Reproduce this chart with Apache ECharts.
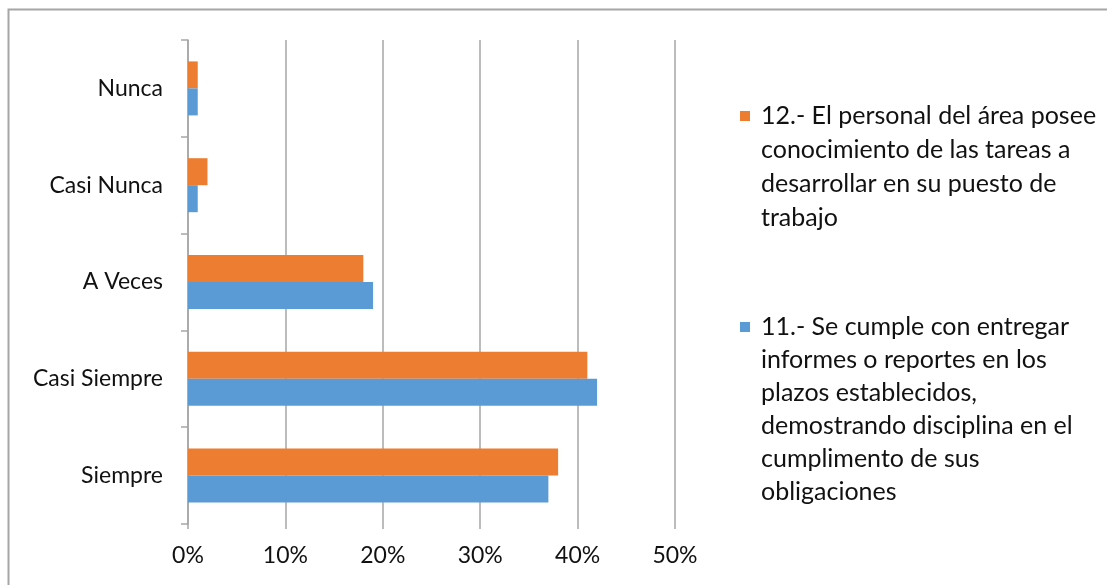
<!DOCTYPE html>
<html>
<head>
<meta charset="utf-8">
<script src="https://cdn.jsdelivr.net/npm/echarts@6/dist/echarts.min.js"></script>
<style>
html,body{margin:0;padding:0;background:#fff;}
#chart{width:1107px;height:585px;}
</style>
</head>
<body>
<div id="chart"></div>
<script>
var categories = ['Siempre', 'Casi Siempre', 'A Veces', 'Casi Nunca', 'Nunca'];
var seriesNames = [
  '12.- El personal del área posee\nconocimiento de las tareas a\ndesarrollar en su puesto de\ntrabajo',
  '11.- Se cumple con entregar\ninformes o reportes en los\nplazos establecidos,\ndemostrando disciplina en el\ncumplimento de sus\nobligaciones'
];
var values12 = [38, 41, 18, 2, 1];
var values11 = [37, 42, 19, 1, 1];
var xTicks = [0, 10, 20, 30, 40, 50];

var FONT = 'Lato';
function topAligned(name) {
  // prepend blank lines so the first text line sits beside the legend icon
  var n = name.split('\n').length;
  return new Array(n).join('\n') + name;
}
// 10x10 square plus an empty point at x=16 to leave a gap before the text
var ICON = 'path://M0,0L10,0L10,10L0,10Z M16,0L16,0';
var chart = echarts.init(document.getElementById('chart'));
chart.setOption({
  animation: false,
  backgroundColor: '#fff',
  graphic: [{
    type: 'polyline',
    shape: { points: [[8.5, 700], [8.5, 9.5], [1200, 9.5]] },
    style: { stroke: '#a6a6a6', lineWidth: 2, fill: null },
    silent: true
  }],
  grid: { left: 188, right: 432, top: 40, bottom: 61 },
  legend: [{
    data: [seriesNames[0]],
    orient: 'vertical',
    left: 740, top: -3,
    padding: 0,
    itemWidth: 16, itemHeight: 10,
    icon: ICON,
    symbolKeepAspect: false,
    selectedMode: false,
    formatter: topAligned,
    textStyle: { fontFamily: FONT, fontSize: 25, color: '#111', lineHeight: 34 }
  }, {
    data: [seriesNames[1]],
    orient: 'vertical',
    left: 740, top: 145.5,
    padding: 0,
    itemWidth: 16, itemHeight: 10,
    icon: ICON,
    symbolKeepAspect: false,
    selectedMode: false,
    formatter: topAligned,
    textStyle: { fontFamily: FONT, fontSize: 25, color: '#111', lineHeight: 33 }
  }],
  xAxis: {
    type: 'value',
    min: xTicks[0], max: xTicks[xTicks.length - 1], interval: 10,
    axisLine: { show: false },
    axisTick: { show: true, length: 5, lineStyle: { color: '#a6a6a6', width: 1.5 } },
    splitLine: { show: true, lineStyle: { color: '#a6a6a6', width: 1.5 } },
    axisLabel: { formatter: '{value}%', fontFamily: FONT, fontSize: 23, color: '#111', margin: 20 }
  },
  yAxis: {
    type: 'category',
    data: categories,
    axisLine: { show: true, lineStyle: { color: '#a6a6a6', width: 1.5 } },
    axisTick: { show: true, length: 7, lineStyle: { color: '#a6a6a6', width: 1.5 } },
    axisLabel: { fontFamily: FONT, fontSize: 23, color: '#111', margin: 25 }
  },
  series: [{
    name: seriesNames[0],
    type: 'bar',
    data: values12,
    barWidth: 27,
    barGap: '0%',
    itemStyle: { color: '#ED7D31' }
  }, {
    name: seriesNames[1],
    type: 'bar',
    data: values11,
    barWidth: 27,
    barGap: '0%',
    itemStyle: { color: '#5B9BD5' }
  }]
});
</script>
</body>
</html>
